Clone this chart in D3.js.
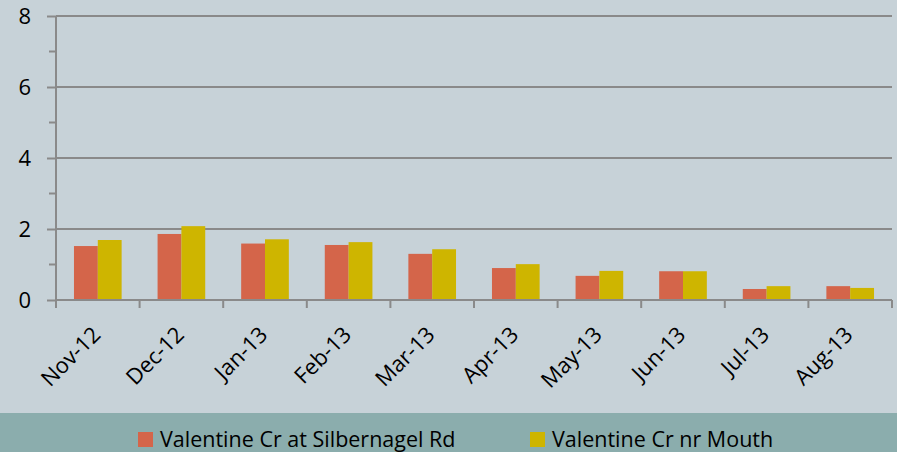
<!DOCTYPE html>
<html>
<head>
<meta charset="utf-8">
<script src="https://cdn.jsdelivr.net/npm/d3@7"></script>
<style>
  body { margin: 0; background: #c7d2d8; }
  svg { display: block; font-family: "Open Sans", Lato, sans-serif; }
</style>
</head>
<body>
<div id="chart"></div>
<script>
// data
var months = ["Nov-12", "Dec-12", "Jan-13", "Feb-13", "Mar-13", "Apr-13", "May-13", "Jun-13", "Jul-13", "Aug-13"];
var silbernagel = [1.52, 1.86, 1.59, 1.55, 1.30, 0.90, 0.68, 0.81, 0.31, 0.39];
var mouth = [1.69, 2.08, 1.71, 1.63, 1.43, 1.01, 0.82, 0.81, 0.39, 0.34];
var seriesNames = ["Valentine Cr at Silbernagel Rd", "Valentine Cr nr Mouth"];
var colors = ["#d4654a", "#ceb500"];
var yTicks = [0, 2, 4, 6, 8];
var yMinor = [1, 3, 5, 7];

var width = 897, height = 452;
var plotL = 56, plotR = 892, plotT = 16, plotB = 300;

var svg = d3.select("#chart").append("svg")
    .attr("width", width)
    .attr("height", height);

svg.append("rect").attr("width", width).attr("height", height).attr("fill", "#c7d2d8");
// legend band
svg.append("rect").attr("x", 0).attr("y", 413).attr("width", width).attr("height", height - 413).attr("fill", "#8badad");

var x = d3.scaleBand().domain(months).range([plotL, plotR]).paddingInner(0.43).paddingOuter(0.215);
var xSub = d3.scaleBand().domain([0, 1]).range([0, x.bandwidth()]);
var y = d3.scaleLinear().domain([0, 8]).range([plotB, plotT]);

var grid = "#8a8a8a";

// gridlines
svg.selectAll(".grid").data(yTicks.slice(1)).enter().append("line")
    .attr("x1", plotL).attr("x2", plotR)
    .attr("y1", function(d) { return y(d); }).attr("y2", function(d) { return y(d); })
    .attr("stroke", grid).attr("stroke-width", 2);

// bars
var rows = months.map(function(m, i) { return { m: m, v: [silbernagel[i], mouth[i]] }; });
var g = svg.selectAll(".grp").data(rows).enter().append("g")
    .attr("transform", function(d) { return "translate(" + x(d.m) + ",0)"; });
g.selectAll("rect").data(function(d) { return d.v; }).enter().append("rect")
    .attr("x", function(d, i) { return xSub(i); })
    .attr("width", xSub.bandwidth())
    .attr("y", function(d) { return y(d); })
    .attr("height", function(d) { return plotB - y(d); })
    .attr("fill", function(d, i) { return colors[i]; });

// y axis
var yAxis = d3.axisLeft(y).tickValues(yTicks).tickSize(9).tickPadding(16);
var ya = svg.append("g").attr("transform", "translate(" + plotL + ",0)").call(yAxis);
ya.select(".domain").remove();
ya.selectAll("line").attr("stroke", grid).attr("stroke-width", 2);
ya.selectAll("text").attr("font-size", 22).attr("fill", "#000").attr("font-family", "\"Open Sans\", sans-serif");
svg.selectAll(".minor").data(yMinor).enter().append("line")
    .attr("x1", plotL - 7).attr("x2", plotL)
    .attr("y1", function(d) { return y(d); }).attr("y2", function(d) { return y(d); })
    .attr("stroke", grid).attr("stroke-width", 2);
svg.append("line").attr("x1", plotL).attr("x2", plotL).attr("y1", plotT).attr("y2", plotB + 8)
    .attr("stroke", grid).attr("stroke-width", 2);

// x axis
svg.append("line").attr("x1", plotL).attr("x2", plotR).attr("y1", plotB).attr("y2", plotB)
    .attr("stroke", grid).attr("stroke-width", 2);
var step = x.step();
svg.selectAll(".xt").data(months).enter().append("line")
    .attr("x1", function(d) { return x(d) - x.paddingInner() * step / 2 + step; })
    .attr("x2", function(d) { return x(d) - x.paddingInner() * step / 2 + step; })
    .attr("y1", plotB).attr("y2", plotB + 8)
    .attr("stroke", grid).attr("stroke-width", 2);
svg.selectAll(".xl").data(months).enter().append("text")
    .attr("transform", function(d) { return "translate(" + (x(d) + x.bandwidth() / 2 + 4) + "," + (plotB + 36) + ") rotate(-45)"; })
    .attr("text-anchor", "end")
    .attr("font-size", 22)
    .attr("fill", "#000")
    .text(function(d) { return d; });

// legend
var legX = [138, 530];
var lg = svg.selectAll(".leg").data(seriesNames).enter().append("g")
    .attr("transform", function(d, i) { return "translate(" + legX[i] + ",432)"; });
lg.append("rect").attr("width", 15).attr("height", 15).attr("fill", function(d, i) { return colors[i]; });
lg.append("text").attr("x", 22).attr("y", 15).attr("font-size", 21.5).attr("fill", "#000")
    .text(function(d) { return d; });
</script>
</body>
</html>
